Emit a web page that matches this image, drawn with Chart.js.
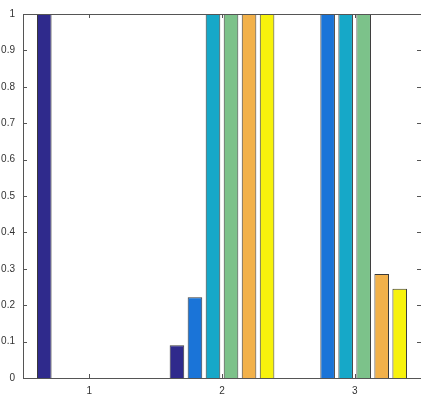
<!DOCTYPE html>
<html lang="en">
  <head>
    <meta charset="UTF-8" />
    <title>Grouped bars</title>
    <script src="https://cdn.jsdelivr.net/npm/chart.js"></script>
    <style>
      html, body { margin: 0; padding: 0; background: #fff; }
      #wrap { width: 421px; height: 401px; }
    </style>
  </head>
  <body>
    <div id="wrap"><canvas id="barChart"></canvas></div>
    <script>
      // data
      const categories = ["1", "2", "3"];
      const series1 = [1, 0.09, 0];
      const series2 = [0, 0.222, 1];
      const series3 = [0, 1, 1];
      const series4 = [0, 1, 1];
      const series5 = [0, 1, 0.286];
      const series6 = [0, 1, 0.245];
      const yTicks = [0, 0.1, 0.2, 0.3, 0.4, 0.5, 0.6, 0.7, 0.8, 0.9, 1];

      const colors = ["#2f2a8c", "#1a74d8", "#16a8c8", "#7cc28a", "#f2b14a", "#f7f20c"];
      const allSeries = [series1, series2, series3, series4, series5, series6];

      // axes box (right side runs off the picture) + inward tick marks
      const boxTicks = {
        id: "boxTicks",
        afterDraw(chart) {
          const { ctx, chartArea: a, scales } = chart;
          ctx.save();
          ctx.strokeStyle = "#555";
          ctx.lineWidth = 1;
          ctx.beginPath();
          ctx.moveTo(a.right + 2, a.top + 0.5);
          ctx.lineTo(a.left + 0.5, a.top + 0.5);
          ctx.lineTo(a.left + 0.5, a.bottom + 0.5);
          ctx.lineTo(a.right + 2, a.bottom + 0.5);
          yTicks.forEach((v) => {
            const y = Math.round(scales.y.getPixelForValue(v)) + 0.5;
            ctx.moveTo(a.left, y);
            ctx.lineTo(a.left + 4, y);
            ctx.moveTo(a.right, y);
            ctx.lineTo(a.right - 4, y);
          });
          categories.forEach((c, i) => {
            const x = Math.round(scales.x.getPixelForValue(i)) + 0.5;
            ctx.moveTo(x, a.bottom);
            ctx.lineTo(x, a.bottom - 4);
            ctx.moveTo(x, a.top);
            ctx.lineTo(x, a.top + 4);
          });
          ctx.stroke();
          ctx.restore();
        },
      };

      new Chart(document.getElementById("barChart"), {
        type: "bar",
        data: {
          labels: categories,
          datasets: allSeries.map((d, i) => ({
            label: "S" + (i + 1),
            data: d,
            backgroundColor: colors[i],
            borderColor: "#3a3a3a",
            borderWidth: 1,
            categoryPercentage: 0.815,
            barPercentage: 0.81,
          })),
        },
        options: {
          responsive: true,
          maintainAspectRatio: false,
          animation: false,
          layout: { padding: { top: 12, right: 0, left: 0, bottom: 0 } },
          plugins: { legend: { display: false }, tooltip: { enabled: false } },
          scales: {
            x: {
              offset: true,
              grid: { display: false, drawTicks: false },
              border: { display: false },
              ticks: { padding: 7, color: "#333", font: { family: "Arial", size: 10 } },
              afterFit(s) { s.height = 23; },
            },
            y: {
              min: 0,
              max: 1,
              afterBuildTicks(s) { s.ticks = yTicks.map((v) => ({ value: v })); },
              grid: { display: false, drawTicks: false },
              border: { display: false },
              ticks: {
                padding: 8,
                color: "#333",
                font: { family: "Arial", size: 10 },
                callback: (v) => String(Math.round(v * 10) / 10),
              },
              afterFit(s) { s.width = 23; },
            },
          },
        },
        plugins: [boxTicks],
      });
    </script>
  </body>
</html>
